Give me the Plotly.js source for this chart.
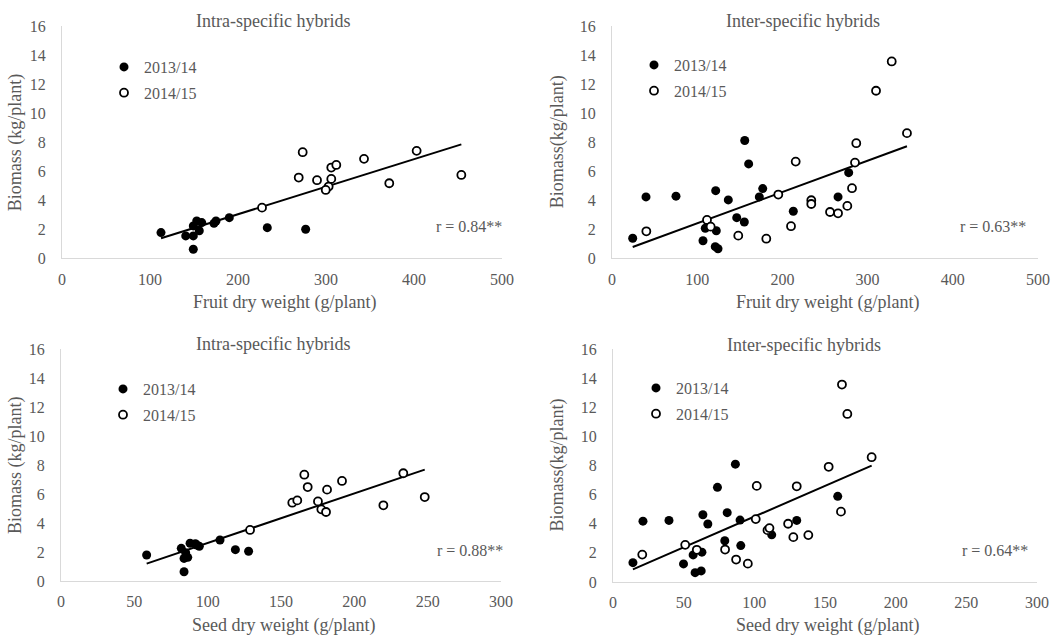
<!DOCTYPE html>
<html>
<head>
<meta charset="utf-8">
<script src="https://cdn.plot.ly/plotly-3.0.1.min.js"></script>
<style>html,body{margin:0;padding:0;background:#fff;}#chart{width:1052px;height:636px;}</style>
</head>
<body>
<div id="chart"></div>
<script>
// ---------- DATA ----------
// Panel 1: Intra-specific hybrids, fruit dry weight vs biomass
const p1_2013_x = [112.5,140.6,149.2,149.2,153.1,149.2,156,158.8,172.7,175,190.1,233.3,276.9];
const p1_2013_y = [1.77,1.54,1.54,0.62,2.57,2.23,1.90,2.46,2.41,2.57,2.80,2.11,2.00];
const p1_2014_x = [227.3,273.5,269,289.8,306,311.7,306,303,299.7,343.2,403,371.9,453.8];
const p1_2014_y = [3.49,7.31,5.56,5.38,6.25,6.43,5.47,4.94,4.71,6.85,7.40,5.17,5.74];
// Panel 2: Inter-specific hybrids, fruit dry weight vs biomass
const p2_2013_x = [24.3,39.9,75.1,121.7,136.5,155.8,160.4,176.9,172.9,146.4,155.3,109.5,122.4,106.8,121.2,124.4,212.8,265.3,277.8];
const p2_2013_y = [1.38,4.23,4.28,4.66,4.02,8.11,6.50,4.80,4.23,2.80,2.50,2.07,1.90,1.21,0.80,0.66,3.24,4.23,5.90];
const p2_2014_x = [40.3,111.5,115.8,148.2,181.1,195.2,210.1,215.6,328.3,309.9,346.2,286.7,285.2,281.7,276.2,233.9,233.9,255.9,265.3];
const p2_2014_y = [1.86,2.64,2.18,1.56,1.35,4.39,2.21,6.66,13.56,11.54,8.62,7.93,6.59,4.83,3.61,4.00,3.74,3.19,3.10];
// Panel 3: Intra-specific hybrids, seed dry weight vs biomass
const p3_2013_x = [58.4,82.0,83.9,86.4,85.0,83.9,88.0,91.6,92.5,94.3,108.4,118.9,127.9];
const p3_2013_y = [1.79,2.25,1.56,1.63,1.95,0.64,2.60,2.57,2.48,2.39,2.83,2.16,2.05];
const p3_2014_x = [128.9,157.7,161.1,165.9,168.2,181.4,191.6,175.2,177.5,180.7,219.8,233.4,248.0];
const p3_2014_y = [3.52,5.40,5.56,7.33,6.48,6.30,6.90,5.49,4.94,4.76,5.22,7.43,5.79];
// Panel 4: Inter-specific hybrids, seed dry weight vs biomass
const p4_2013_x = [14.1,21.2,39.6,63.6,67.1,73.9,86.6,80.8,89.9,79.1,90.4,56.7,62.9,49.9,58.1,62.4,112.3,130.0,159.0];
const p4_2013_y = [1.33,4.18,4.23,4.62,3.98,6.50,8.09,4.76,4.25,2.83,2.50,1.86,2.05,1.24,0.64,0.76,3.24,4.23,5.88];
const p4_2014_x = [20.7,51.1,59.3,79.3,87.1,95.4,101.7,101.0,109.3,110.7,123.9,127.6,130.0,138.2,152.6,162.0,165.8,183.0,161.3];
const p4_2014_y = [1.88,2.55,2.21,2.23,1.54,1.26,6.60,4.32,3.56,3.70,4.00,3.08,6.57,3.22,7.91,13.56,11.54,8.57,4.83];

const seriesNames = ['2013/14','2014/15'];
const panelTitles = ['Intra-specific hybrids','Inter-specific hybrids','Intra-specific hybrids','Inter-specific hybrids'];
const xTitles = ['Fruit dry weight (g/plant)','Fruit dry weight (g/plant)','Seed dry weight (g/plant)','Seed dry weight (g/plant)'];
const yTitles = ['Biomass (kg/plant)','Biomass(kg/plant)','Biomass (kg/plant)','Biomass(kg/plant)'];
const rLabels = ['r = 0.84**','r = 0.63**','r = 0.88**','r = 0.64**'];
const xMax = [500,500,300,300];
const xStep = [100,100,50,50];
const yMax = 16, yStep = 2;

// ---------- LAYOUT ----------
const W = 1052, H = 636;
const px = v => v / W;
const py = v => 1 - v / H;
// plot boxes: [left, right, top, bottom] in pixels
const boxes = [[62,502,26,258.3],[612,1038,26,258.3],[61,501,349,581],[613,1037,349,582]];
const titlePos = [[273,21],[803,21],[273,344],[804,345]];
const yTitleX = [15,557,15,557];
const xTitleY = [302,302,625,625];
const rPos = [[504,226.7],[1028,226.7],[505,550.7],[1030,550.5]];
const legendPos = [[104,50],[634,48],[103,372],[636,371]];

const panels = [
  [p1_2013_x,p1_2013_y,p1_2014_x,p1_2014_y],
  [p2_2013_x,p2_2013_y,p2_2014_x,p2_2014_y],
  [p3_2013_x,p3_2013_y,p3_2014_x,p3_2014_y],
  [p4_2013_x,p4_2013_y,p4_2014_x,p4_2014_y]
];

const FONT = 'Liberation Serif';
const GRAY = '#595959';

function linfit(xs, ys){
  const n = xs.length;
  const mx = xs.reduce((a,b)=>a+b,0)/n, my = ys.reduce((a,b)=>a+b,0)/n;
  let sxy=0, sxx=0;
  for(let i=0;i<n;i++){ sxy += (xs[i]-mx)*(ys[i]-my); sxx += (xs[i]-mx)*(xs[i]-mx); }
  const b = sxy/sxx, a = my - b*mx;
  const x0 = Math.min(...xs), x1 = Math.max(...xs);
  return {x:[x0,x1], y:[a+b*x0, a+b*x1]};
}

const traces = [];
const layout = {
  width: W, height: H,
  margin: {l:0,r:0,t:0,b:0},
  paper_bgcolor: '#ffffff', plot_bgcolor: '#ffffff',
  font: {family: FONT, color: GRAY, size: 16},
  showlegend: true,
  annotations: []
};

panels.forEach((p, i) => {
  const k = i + 1;
  const xa = 'x' + (k===1?'':k), ya = 'y' + (k===1?'':k);
  const lg = k===1 ? 'legend' : 'legend' + k;
  const allX = p[0].concat(p[2]), allY = p[1].concat(p[3]);
  const fit = linfit(allX, allY);
  traces.push({
    x: fit.x, y: fit.y, xaxis: xa, yaxis: ya, mode: 'lines',
    line: {color: '#000000', width: 2}, showlegend: false, hoverinfo: 'skip'
  });
  traces.push({
    x: p[0], y: p[1], xaxis: xa, yaxis: ya, mode: 'markers', name: seriesNames[0],
    legend: lg, legendgroup: 'a'+k,
    marker: {symbol: 'circle', size: 9, color: '#000000', line: {width: 0}}
  });
  traces.push({
    x: p[2], y: p[3], xaxis: xa, yaxis: ya, mode: 'markers', name: seriesNames[1],
    legend: lg, legendgroup: 'b'+k,
    marker: {symbol: 'circle', size: 8, color: '#ffffff', line: {width: 1.8, color: '#000000'}}
  });
  const b = boxes[i];
  const axBase = {
    showline: true, linecolor: '#d9d9d9', linewidth: 1, showgrid: false, zeroline: false,
    ticks: '', tickfont: {family: FONT, size: 16, color: GRAY}, fixedrange: true
  };
  layout['xaxis' + (k===1?'':k)] = Object.assign({}, axBase, {
    domain: [px(b[0]), px(b[1])], range: [0, xMax[i]], dtick: xStep[i], tick0: 0,
    anchor: ya, ticklabelstandoff: 6
  });
  layout['yaxis' + (k===1?'':k)] = Object.assign({}, axBase, {
    domain: [py(b[3]), py(b[2])], range: [0, yMax], dtick: yStep, tick0: 0,
    anchor: xa, ticklabelstandoff: 12
  });
  layout[lg] = {
    x: px(legendPos[i][0]), y: py(legendPos[i][1]), xanchor: 'left', yanchor: 'top',
    xref: 'paper', yref: 'paper', bgcolor: 'rgba(0,0,0,0)', borderwidth: 0,
    font: {family: FONT, size: 16, color: GRAY}, traceorder: 'grouped', tracegroupgap: 2
  };
  const cx = (b[0] + b[1]) / 2, cy = (b[2] + b[3]) / 2;
  layout.annotations.push({
    text: panelTitles[i], xref: 'paper', yref: 'paper', x: px(titlePos[i][0]), y: py(titlePos[i][1]),
    xanchor: 'center', yanchor: 'middle', showarrow: false, font: {family: FONT, size: 18, color: GRAY}
  });
  layout.annotations.push({
    text: xTitles[i], xref: 'paper', yref: 'paper', x: px(cx + 2), y: py(xTitleY[i]),
    xanchor: 'center', yanchor: 'middle', showarrow: false, font: {family: FONT, size: 18, color: GRAY}
  });
  layout.annotations.push({
    text: yTitles[i], xref: 'paper', yref: 'paper', x: px(yTitleX[i]), y: py(cy),
    xanchor: 'center', yanchor: 'middle', textangle: -90, showarrow: false, font: {family: FONT, size: 18, color: GRAY}
  });
  layout.annotations.push({
    text: rLabels[i], xref: 'paper', yref: 'paper', x: px(rPos[i][0]), y: py(rPos[i][1]),
    xanchor: 'right', yanchor: 'middle', showarrow: false, font: {family: FONT, size: 16, color: GRAY}
  });
});

Plotly.newPlot('chart', traces, layout, {staticPlot: true, displayModeBar: false});
</script>
</body>
</html>
